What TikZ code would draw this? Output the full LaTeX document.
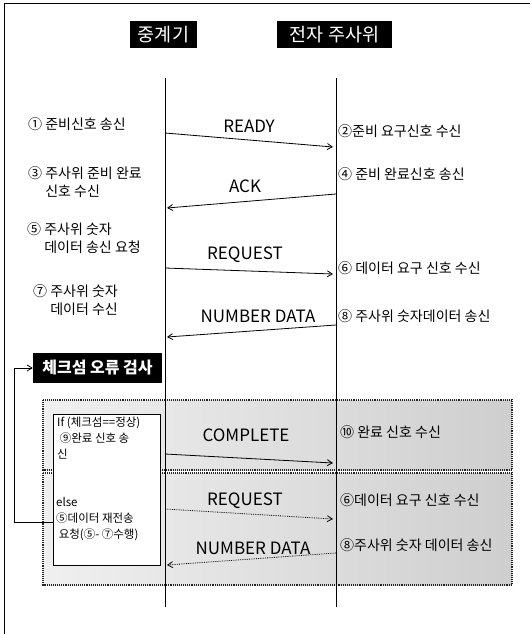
\documentclass[tikz,border=0pt]{standalone}
\usepackage{fontspec}
\setmainfont{Noto Sans CJK KR}
\usetikzlibrary{arrows.meta}
\begin{document}
\begin{tikzpicture}[x=1pt,y=-1pt,
  hdr/.style={fill=black,text=white,inner sep=0pt,minimum height=27pt,font=\fontsize{18.5}{20}\selectfont},
  chkbox/.style={fill=black,text=white,inner sep=0pt,minimum height=30pt,font=\fontsize{16}{18}\selectfont\bfseries},
  life/.style={line width=0.9pt},
  msg/.style={line width=0.8pt,-{Straight Barb[length=5pt,width=6pt]}},
  dmsg/.style={msg,densely dotted},
  lbl/.style={inner sep=1pt,font=\fontsize{17}{19}\selectfont},
  side/.style={inner sep=0pt,anchor=west,align=left,font=\fontsize{14}{18}\selectfont},
  small/.style={inner sep=0pt,anchor=north west,align=left,font=\fontsize{11.5}{16}\selectfont},
  region/.style={left color=gray!12,right color=gray!38},
  regionedge/.style={draw=black!85,densely dotted,line width=1.1pt}]
\useasboundingbox (0,0) rectangle (530,634);
% frame
\coordinate (f1) at (4,634); \coordinate (f2) at (4,3); \coordinate (f3) at (530,3);
\draw[line width=0.8pt] (f1) -- (f2) -- (f3);
% headers
\node[hdr,minimum width=67pt] (hA) at (163.5,35) {중계기};
\node[hdr,minimum width=115pt] (hB) at (334.5,35) {전자 주사위};
% gray regions
\shade[region] (43,400) rectangle (512,470);
\shade[region] (43,473) rectangle (512,585);
\draw[regionedge] (43,400) rectangle (512,470);
\draw[regionedge] (43,473) rectangle (512,585);
% lifelines
\coordinate (a1) at (165,78); \coordinate (a2) at (165,607);
\coordinate (b1) at (336,78); \coordinate (b2) at (336,607);
\draw[life] (a1) -- (a2);
\draw[life] (b1) -- (b2);
% messages
\coordinate (m1s) at (165,133); \coordinate (m1e) at (333,147);
\coordinate (m2s) at (336,194); \coordinate (m2e) at (167,208);
\coordinate (m3s) at (165,268); \coordinate (m3e) at (333,274);
\coordinate (m4s) at (336,325); \coordinate (m4e) at (167,337);
\coordinate (m5s) at (165,454); \coordinate (m5e) at (333,463);
\coordinate (m6s) at (165,509); \coordinate (m6e) at (333,519);
\coordinate (m7s) at (336,553); \coordinate (m7e) at (167,565);
\draw[msg] (m1s) -- (m1e);
\draw[msg] (m2s) -- (m2e);
\draw[msg] (m3s) -- (m3e);
\draw[msg] (m4s) -- (m4e);
\draw[msg] (m5s) -- (m5e);
\draw[dmsg] (m6s) -- (m6e);
\draw[dmsg] (m7s) -- (m7e);
\node[lbl] (t1) at (249,126) {READY};
\node[lbl] (t2) at (245,186) {ACK};
\node[lbl] (t3) at (245,255) {REQUEST};
\node[lbl] (t4) at (258,316) {NUMBER DATA};
\node[lbl] (t5) at (246,435) {COMPLETE};
\node[lbl] (t6) at (245,501) {REQUEST};
\node[lbl] (t7) at (253,548) {NUMBER DATA};
% left texts
\node[side] (l1) at (28,124) {① 준비신호 송신};
\node[side] (l3) at (28,182) {③ 주사위 준비 완료\\\phantom{③ }신호 수신};
\node[side] (l5) at (27,238) {⑤ 주사위 숫자\\\phantom{⑤ }데이터 송신 요청};
\node[side] (l7) at (33,300) {⑦ 주사위 숫자\\\phantom{⑦ }데이터 수신};
% right texts
\node[side] (r2) at (338,131) {②준비 요구신호 수신};
\node[side] (r4) at (338,174) {④ 준비 완료신호 송신};
\node[side] (r6) at (338,268) {⑥ 데이터 요구 신호 수신};
\node[side] (r8) at (338,316) {⑧ 주사위 숫자데이터 송신};
\node[side] (r10) at (340,432) {⑩ 완료 신호 수신};
\node[side] (r6b) at (340,500) {⑥데이터 요구 신호 수신};
\node[side] (r8b) at (340,545) {⑧주사위 숫자 데이터 송신};
% checksum
\node[chkbox,minimum width=129pt] (chk) at (97.5,368) {체크섬 오류 검사};
% if/else box
\node[draw=black,fill=white,line width=0.8pt,minimum width=107pt,minimum height=151pt,inner sep=0pt] (ifbox) at (106.5,489.5) {};
\node[small] (iftxt) at (57,417) {If (체크섬==정상)\\\ ⑨완료 신호 송\\신};
\node[small] (elsetxt) at (56,497) {else\\⑤데이터 재전송\\\ 요청(⑤- ⑦수행)};
% loop
\coordinate (lp) at (53,522);
\draw[line width=0.8pt,-{Straight Barb[length=5pt,width=6pt]}] (lp) -- ++(-39,0) |- (chk.west);
\end{tikzpicture}
\end{document}
